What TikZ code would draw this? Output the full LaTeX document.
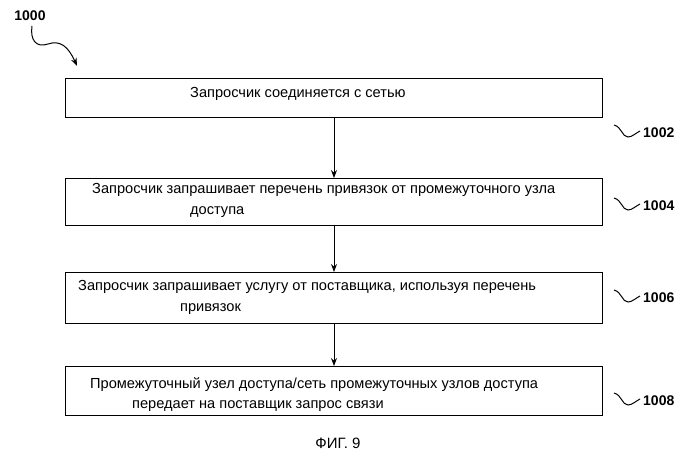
\documentclass[tikz,border=0pt]{standalone}
\usepackage{fontspec}
\setmainfont{Liberation Sans}
\usetikzlibrary{arrows.meta}
\begin{document}
\begin{tikzpicture}[x=1pt,y=-1pt,
  box/.style={draw,line width=1pt},
  txt/.style={font=\fontsize{14.6}{17}\selectfont,inner sep=0pt},
  lbl/.style={font=\bfseries\fontsize{14}{16}\selectfont,inner sep=0pt,anchor=west},
  arr/.style={-{Stealth[length=8pt,width=6pt]},line width=1pt},
  sq/.style={line width=1pt}]
\useasboundingbox (0,0) rectangle (699,467);
\draw[box] (65,78) rectangle (602,117);
\draw[box] (65,178) rectangle (602,225);
\draw[box] (65,272) rectangle (602,323);
\draw[box] (65,366) rectangle (602,415);
\coordinate (b1) at (334,117); \coordinate (t2) at (334,178);
\coordinate (b2) at (334,225); \coordinate (t3) at (334,272);
\coordinate (b3) at (334,323); \coordinate (t4) at (334,366);
\draw[arr] (b1) -- (t2);
\draw[arr] (b2) -- (t3);
\draw[arr] (b3) -- (t4);
\node[txt,anchor=west] (a1) at (190,94) {Запросчик соединяется с сетью};
\node[txt,anchor=west] (a2) at (92,190) {Запросчик запрашивает перечень привязок от промежуточного узла};
\node[txt,anchor=west] (a2b) at (190,212) {доступа};
\node[txt,anchor=west] (a3) at (78,287) {Запросчик запрашивает услугу от поставщика, используя перечень};
\node[txt,anchor=west] (a3b) at (180,309) {привязок};
\node[txt,anchor=west] (a4) at (90,385) {Промежуточный узел доступа/сеть промежуточных узлов доступа};
\node[txt,anchor=west] (a4b) at (132,406) {передает на поставщик запрос связи};
\foreach \y/\n in {133/1002,206/1004,298/1006,401/1008}{
  \draw[sq] (614,\y-8) .. controls (622,\y-6) and (622,\y+4) .. (628,\y+4) .. controls (632,\y+4) and (636,\y) .. (640,\y-2);
  \node[lbl] at (643,\y) {\n};
}
\node[lbl,anchor=center] (n1000) at (30,16) {1000};
\coordinate (e1000) at (77,66);
\draw[-{Stealth[length=8pt,width=6pt]},line width=1pt] (32,26) .. controls (30,40) and (36,48) .. (48,44) .. controls (60,40) and (68,46) .. (e1000);
\node[font=\fontsize{15}{17}\selectfont] (fig) at (338,443) {ФИГ. 9};
\end{tikzpicture}
\end{document}
